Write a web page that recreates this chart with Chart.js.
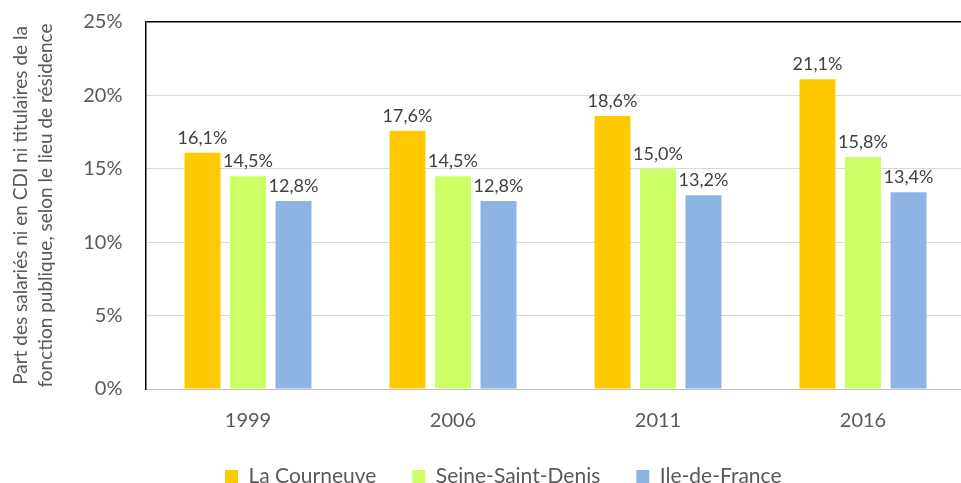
<!DOCTYPE html>
<html>
<head>
<meta charset="utf-8">
<script src="https://cdn.jsdelivr.net/npm/chart.js@4"></script>
<style>
  html, body { margin: 0; padding: 0; background: #fff; overflow: hidden; }
  #wrap { width: 970px; height: 483px; }
</style>
</head>
<body>
<div id="wrap"><canvas id="chart-cdi" width="970" height="483"></canvas></div>
<script>
// Part des salariés ni en CDI ni titulaires de la fonction publique
const years = ['1999', '2006', '2011', '2016'];
const laCourneuve = [16.1, 17.6, 18.6, 21.1];
const seineSaintDenis = [14.5, 14.5, 15.0, 15.8];
const ileDeFrance = [12.8, 12.8, 13.2, 13.4];
const yTicks = [0, 5, 10, 15, 20, 25];

const FONT = 'Lato, "DejaVu Sans", sans-serif';

// labels au-dessus des barres (pas de plugin datalabels dispo)
const barLabels = {
    id: 'barLabels',
    afterDatasetsDraw(chart) {
        const c = chart.ctx;
        c.save();
        c.font = '18px ' + FONT;
        c.fillStyle = '#404040';
        c.textAlign = 'center';
        c.textBaseline = 'alphabetic';
        chart.data.datasets.forEach((ds, i) => {
            chart.getDatasetMeta(i).data.forEach((bar, j) => {
                const txt = ds.data[j].toFixed(1).replace('.', ',') + '%';
                c.fillText(txt, bar.x, bar.y - 9);
            });
        });
        c.restore();
    }
};

// place la légende comme dans l'original
const legendPos = {
    id: 'legendPos',
    beforeDraw(chart) {
        const lg = chart.legend;
        if (!lg) return;
        lg.left = 225 - 36;
        lg.right = 970;
        lg.top = 466 - 36;
    }
};

const ctx = document.getElementById('chart-cdi');

new Chart(ctx, {
    type: 'bar',
    data: {
        labels: years,
        datasets: [
            { label: 'La Courneuve', data: laCourneuve, backgroundColor: '#FFC900' },
            { label: 'Seine-Saint-Denis', data: seineSaintDenis, backgroundColor: '#CCFF66' },
            { label: 'Ile-de-France', data: ileDeFrance, backgroundColor: '#8EB4E3' }
        ]
    },
    options: {
        responsive: false,
        animation: false,
        categoryPercentage: 0.666,
        barPercentage: 0.79,
        layout: { padding: { top: 22, right: 4.5, left: 0, bottom: -20 } },
        plugins: {
            legend: {
                position: 'bottom',
                align: 'start',
                labels: {
                    boxWidth: 13,
                    boxHeight: 13,
                    padding: 36,
                    color: '#595959',
                    font: { family: FONT, size: 21 }
                }
            },
            tooltip: { enabled: false }
        },
        scales: {
            x: {
                grid: { display: false, drawTicks: false },
                border: { color: '#BFBFBF', width: 1 },
                ticks: { color: '#595959', padding: 20, font: { family: FONT, size: 20 } },
                afterFit: s => { s.height = 47; s.paddingLeft = 0; s.paddingRight = 0; }
            },
            y: {
                min: 0,
                max: 25,
                afterBuildTicks: s => { s.ticks = yTicks.map(v => ({ value: v })); },
                grid: {
                    drawTicks: false,
                    color: c => c.tick && c.tick.value === 25 ? '#000' : (c.tick && c.tick.value === 0 ? '#BFBFBF' : '#D9D9D9'),
                    lineWidth: c => c.tick && c.tick.value === 25 ? 1.5 : 1
                },
                border: { color: '#000', width: 1.5 },
                ticks: {
                    color: '#595959',
                    padding: 23,
                    font: { family: FONT, size: 20 },
                    callback: v => v + '%'
                },
                title: {
                    display: true,
                    text: ['Part des salariés ni en CDI ni titulaires de la', 'fonction publique, selon le lieu de résidence'],
                    color: '#595959',
                    font: { family: FONT, size: 19, lineHeight: 1.316 },
                    padding: { top: 8, bottom: 0 }
                },
                afterFit: s => { s.width = 145.5; s.paddingTop = 0; s.paddingBottom = 0; }
            }
        }
    },
    plugins: [barLabels, legendPos]
});
</script>
</body>
</html>
